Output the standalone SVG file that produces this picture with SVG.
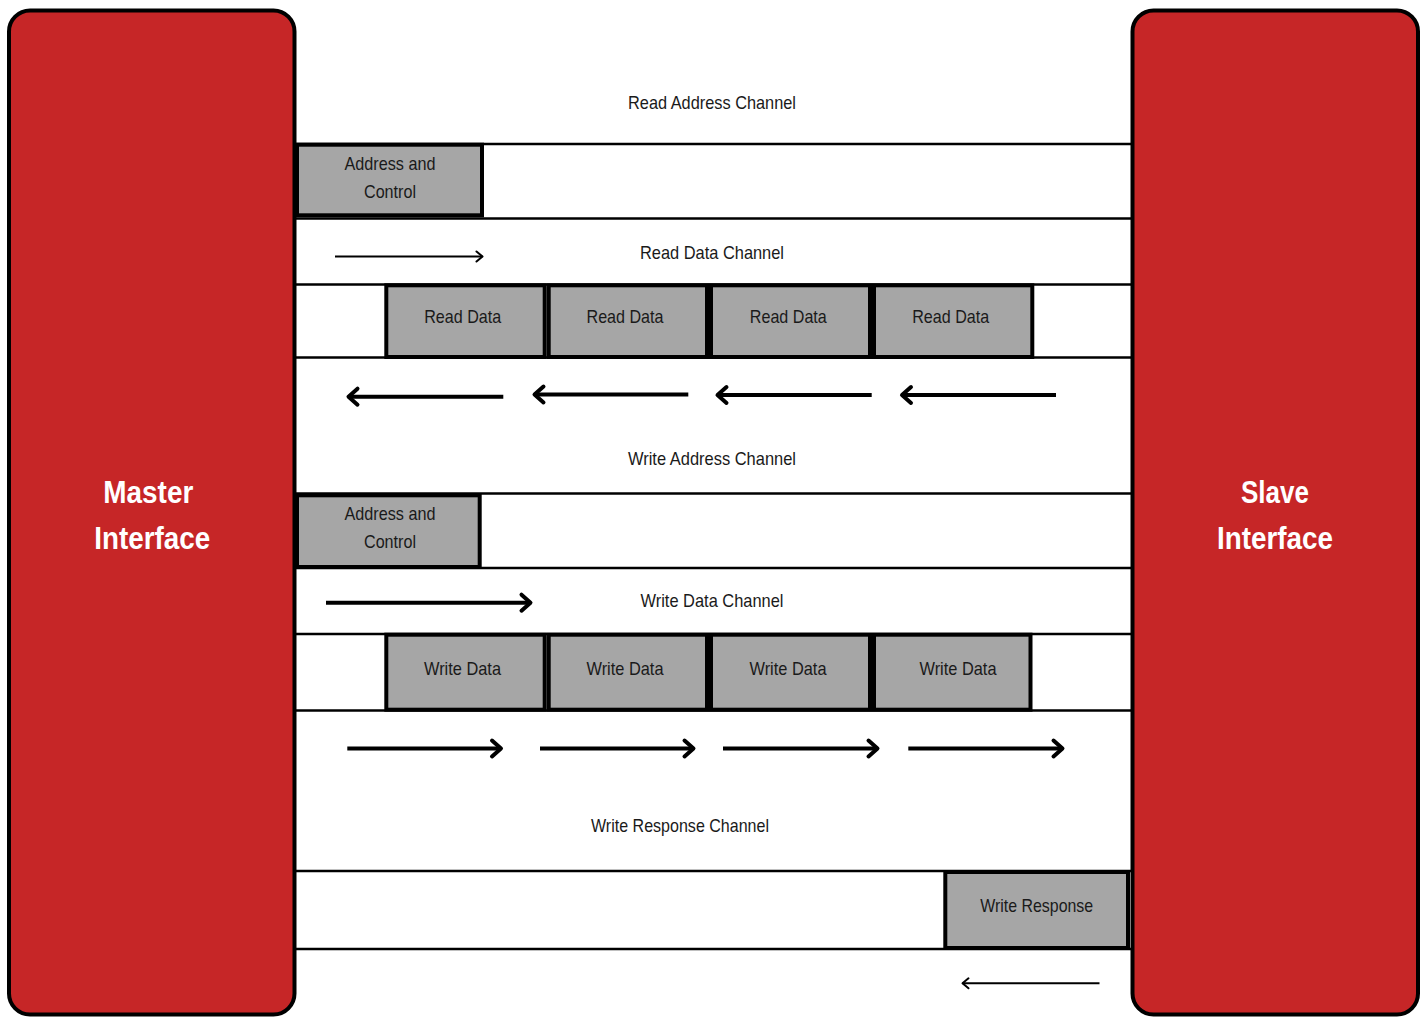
<svg xmlns="http://www.w3.org/2000/svg" width="1424" height="1017" viewBox="0 0 1424 1017">
<style>
.iface{fill:#c62627;stroke:#000;stroke-width:4}
.ilbl{font-family:"Liberation Sans",Arial,sans-serif;font-weight:bold;font-size:31px;fill:#fff;text-anchor:middle}
.box{fill:#a6a6a6;stroke:#000;stroke-width:4}
.lbl{font-family:"Liberation Sans",Arial,sans-serif;font-size:19px;fill:#1a1a1a;text-anchor:middle}
.rule{stroke:#000;stroke-width:2.5;fill:none}
.thick{stroke:#000;stroke-width:4;fill:none}
.thin{stroke:#000;stroke-width:2;fill:none}
</style>
<defs>
<marker id="hK" markerUnits="userSpaceOnUse" markerWidth="20" markerHeight="24" viewBox="-14 -12 20 24" refX="0" refY="0" orient="auto">
<path d="M-9,-8 L0,0 L-9,8" fill="none" stroke="#000" stroke-width="4" stroke-linecap="round" stroke-linejoin="round"/>
</marker>
<marker id="hN" markerUnits="userSpaceOnUse" markerWidth="16" markerHeight="16" viewBox="-10 -8 14 16" refX="0" refY="0" orient="auto">
<path d="M-6,-5 L0,0 L-6,5" fill="none" stroke="#000" stroke-width="2" stroke-linecap="round" stroke-linejoin="round"/>
</marker>
</defs>
<rect width="1424" height="1017" fill="#fff"/>

<g id="channel-rules">
<line class="rule" x1="296" y1="144" x2="1131" y2="144"/>
<line class="rule" x1="296" y1="218.5" x2="1131" y2="218.5"/>
<line class="rule" x1="296" y1="284.5" x2="1131" y2="284.5"/>
<line class="rule" x1="296" y1="357.5" x2="1131" y2="357.5"/>
<line class="rule" x1="296" y1="493.5" x2="1131" y2="493.5"/>
<line class="rule" x1="296" y1="568" x2="1131" y2="568"/>
<line class="rule" x1="296" y1="634" x2="1131" y2="634"/>
<line class="rule" x1="296" y1="710.5" x2="1131" y2="710.5"/>
<line class="rule" x1="296" y1="871" x2="1131" y2="871"/>
<line class="rule" x1="296" y1="949" x2="1131" y2="949"/>
</g>

<g id="channel-labels">
<text class="lbl" x="712" y="108.5" textLength="168" lengthAdjust="spacingAndGlyphs">Read Address Channel</text>
<text class="lbl" x="712" y="258.5" textLength="144" lengthAdjust="spacingAndGlyphs">Read Data Channel</text>
<text class="lbl" x="712" y="464.5" textLength="168" lengthAdjust="spacingAndGlyphs">Write Address Channel</text>
<text class="lbl" x="712" y="607" textLength="143" lengthAdjust="spacingAndGlyphs">Write Data Channel</text>
<text class="lbl" x="680" y="832" textLength="178" lengthAdjust="spacingAndGlyphs">Write Response Channel</text>
</g>

<g id="master">
<rect class="iface" x="9" y="10.5" width="285.5" height="1004" rx="21" ry="21"/>
<text class="ilbl" x="148.3" y="503.3" textLength="90" lengthAdjust="spacingAndGlyphs">Master</text>
<text class="ilbl" x="152.2" y="549" textLength="116" lengthAdjust="spacingAndGlyphs">Interface</text>
</g>

<g id="slave">
<rect class="iface" x="1132.5" y="10.5" width="285.5" height="1004" rx="21" ry="21"/>
<text class="ilbl" x="1275" y="503.3" textLength="68" lengthAdjust="spacingAndGlyphs">Slave</text>
<text class="ilbl" x="1275" y="549" textLength="116" lengthAdjust="spacingAndGlyphs">Interface</text>
</g>

<g id="read-address">
<rect class="box" x="297" y="144.7" width="185" height="70.6"/>
<text class="lbl" x="390" y="169.5" textLength="91" lengthAdjust="spacingAndGlyphs">Address and</text>
<text class="lbl" x="390" y="197.5" textLength="52" lengthAdjust="spacingAndGlyphs">Control</text>
</g>

<g id="read-data-1">
<rect class="box" x="386.3" y="285.3" width="158.4" height="71.7"/>
<text class="lbl" x="462.7" y="322.7" textLength="77" lengthAdjust="spacingAndGlyphs">Read Data</text>
</g>
<g id="read-data-2">
<rect class="box" x="548.7" y="285.3" width="158.3" height="71.7"/>
<text class="lbl" x="625" y="322.7" textLength="77" lengthAdjust="spacingAndGlyphs">Read Data</text>
</g>
<g id="read-data-3">
<rect class="box" x="711" y="285.3" width="159" height="71.7"/>
<text class="lbl" x="788.3" y="322.7" textLength="77" lengthAdjust="spacingAndGlyphs">Read Data</text>
</g>
<g id="read-data-4">
<rect class="box" x="874" y="285.3" width="158.3" height="71.7"/>
<text class="lbl" x="950.7" y="322.7" textLength="77" lengthAdjust="spacingAndGlyphs">Read Data</text>
</g>

<g id="write-address">
<rect class="box" x="297" y="495.3" width="182.7" height="71.7"/>
<text class="lbl" x="390" y="520" textLength="91" lengthAdjust="spacingAndGlyphs">Address and</text>
<text class="lbl" x="390" y="548" textLength="52" lengthAdjust="spacingAndGlyphs">Control</text>
</g>

<g id="write-data-1">
<rect class="box" x="386.3" y="634.7" width="158.4" height="75"/>
<text class="lbl" x="462.5" y="675" textLength="77" lengthAdjust="spacingAndGlyphs">Write Data</text>
</g>
<g id="write-data-2">
<rect class="box" x="548.7" y="634.7" width="158.3" height="75"/>
<text class="lbl" x="625" y="675" textLength="77" lengthAdjust="spacingAndGlyphs">Write Data</text>
</g>
<g id="write-data-3">
<rect class="box" x="711" y="634.7" width="159" height="75"/>
<text class="lbl" x="788" y="675" textLength="77" lengthAdjust="spacingAndGlyphs">Write Data</text>
</g>
<g id="write-data-4">
<rect class="box" x="874" y="634.7" width="156.5" height="75"/>
<text class="lbl" x="958" y="675" textLength="77" lengthAdjust="spacingAndGlyphs">Write Data</text>
</g>

<g id="write-response">
<rect class="box" x="945.3" y="872" width="182.7" height="76"/>
<text class="lbl" x="1036.7" y="911.7" textLength="113" lengthAdjust="spacingAndGlyphs">Write Response</text>
</g>

<g id="connectors">
<line class="thin" x1="335" y1="256.5" x2="482.5" y2="256.5" marker-end="url(#hN)"/>
<line class="thick" x1="503.3" y1="396.7" x2="348.5" y2="396.7" marker-end="url(#hK)"/>
<line class="thick" x1="688.3" y1="394.5" x2="534.5" y2="394.5" marker-end="url(#hK)"/>
<line class="thick" x1="871.7" y1="395" x2="717.5" y2="395" marker-end="url(#hK)"/>
<line class="thick" x1="1056" y1="395" x2="902" y2="395" marker-end="url(#hK)"/>
<line class="thick" x1="326" y1="602.7" x2="530.5" y2="602.7" marker-end="url(#hK)"/>
<line class="thick" x1="347.3" y1="748.5" x2="501" y2="748.5" marker-end="url(#hK)"/>
<line class="thick" x1="540" y1="748.5" x2="693.5" y2="748.5" marker-end="url(#hK)"/>
<line class="thick" x1="723" y1="748.5" x2="877.5" y2="748.5" marker-end="url(#hK)"/>
<line class="thick" x1="908.3" y1="748.5" x2="1062.5" y2="748.5" marker-end="url(#hK)"/>
<line class="thin" x1="1099.5" y1="983.3" x2="962.5" y2="983.3" marker-end="url(#hN)"/>
</g>
</svg>
